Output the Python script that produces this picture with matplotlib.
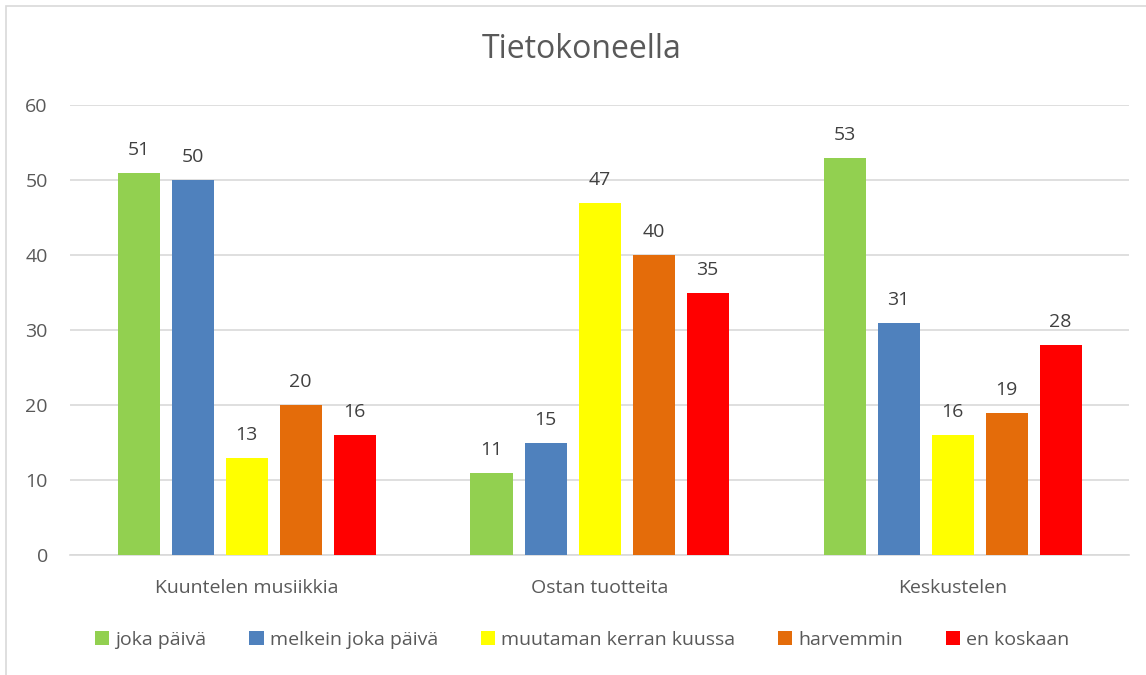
import matplotlib.pyplot as plt
import numpy as np
from matplotlib.patches import Rectangle

# Data
categories = ["Kuuntelen musiikkia", "Ostan tuotteita", "Keskustelen"]
series_names = ["joka päivä", "melkein joka päivä", "muutaman kerran kuussa", "harvemmin", "en koskaan"]
joka_paiva = [51, 11, 53]
melkein = [50, 15, 31]
muutaman = [13, 47, 16]
harvemmin = [20, 40, 19]
en_koskaan = [16, 35, 28]
series_values = [joka_paiva, melkein, muutaman, harvemmin, en_koskaan]
colors = ["#92D050", "#4F81BD", "#FFFF00", "#E46C0A", "#FF0000"]

plt.rcParams['font.family'] = ['Open Sans', 'DejaVu Sans']
text_color = "#595959"

fig = plt.figure(figsize=(11.46, 6.75), dpi=100)
ax = fig.add_axes([70/1146, 1-555/675, (1129-70)/1146, 450/675])

x = np.arange(len(categories))
width = 42/353
step = 54/353
for i, (name, vals, c) in enumerate(zip(series_names, series_values, colors)):
    pos = x + (i - 2) * step
    bars = ax.bar(pos, vals, width, color=c, label=name, zorder=3)
    for b, v in zip(bars, vals):
        ax.annotate(str(v), (b.get_x() + b.get_width()/2, v), xytext=(0, 10),
                    textcoords="offset points", ha="center", va="bottom",
                    fontsize=14, color="#404040")

ax.set_xlim(-0.5, 2.5)
ax.set_ylim(0, 60)
ax.set_yticks(range(0, 61, 10))
ax.set_xticks(x)
ax.set_xticklabels(categories)
ax.grid(axis="y", color="#D9D9D9", linewidth=1.2, zorder=0)
for s in ["top", "right", "left"]:
    ax.spines[s].set_visible(False)
ax.spines["bottom"].set_color("#D9D9D9")
ax.spines["bottom"].set_linewidth(1.2)
ax.tick_params(axis="both", length=0, labelsize=14, colors=text_color)
ax.tick_params(axis="y", pad=16)
ax.tick_params(axis="x", pad=17)

fig.text(0.508, 1-50/675, "Tietokoneella", ha="center", va="center",
         fontsize=23, color=text_color)

fig.legend(loc="center", bbox_to_anchor=(0.508, 1-640/675), ncol=5, frameon=False,
           fontsize=14, labelcolor=text_color, handlelength=0.75, handleheight=0.75,
           handletextpad=0.3, columnspacing=2.2)

# chart border
fig.patches.append(Rectangle((6/1146, -0.01), 1.02, 1-6/675 + 0.01, transform=fig.transFigure,
                             fill=False, edgecolor="#D9D9D9", linewidth=1.2))

fig.savefig("out.png", dpi=100)
